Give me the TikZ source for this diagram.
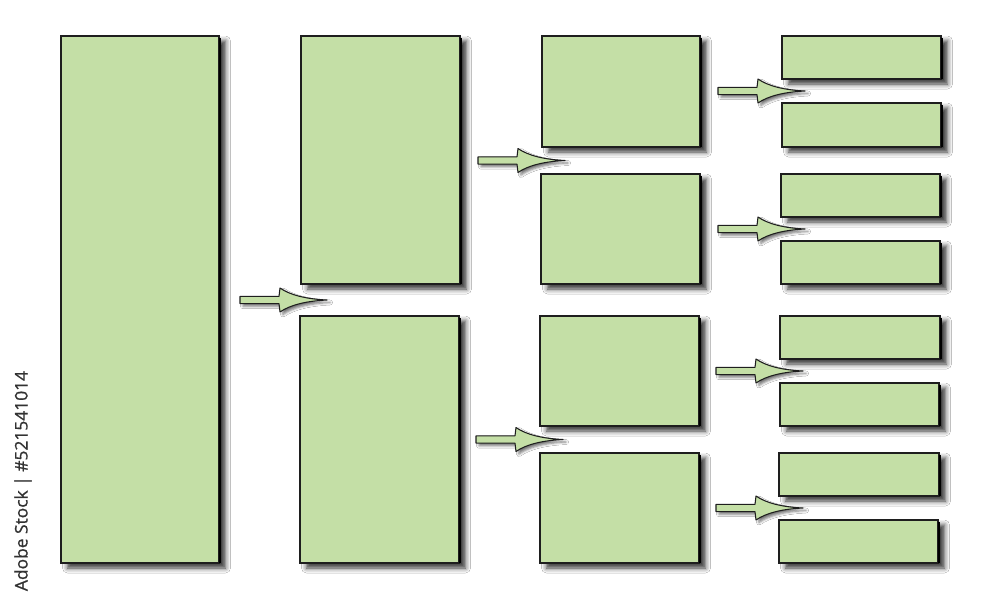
\documentclass[tikz,border=0pt]{standalone}
\usepackage{fontspec}
\newfontfamily\wmfont[FakeBold=0.8]{Open Sans}
\usetikzlibrary{calc,shadows.blur}
\definecolor{boxgreen}{RGB}{196,223,166}
\definecolor{edgedark}{RGB}{30,30,30}
\definecolor{wmgray}{RGB}{50,50,50}
\tikzset{
  box/.style={draw=edgedark, line width=0.7pt, fill=boxgreen, inner sep=0pt, outer sep=0pt,
    blur shadow={shadow xshift=0.13cm, shadow yshift=-0.1cm, shadow blur radius=0.1cm, shadow opacity=80}},
  rightedge/.style={draw=black, line width=1.3pt, line cap=butt},
  arrowshape/.style={draw=edgedark, line width=0.6pt, fill=boxgreen, line join=round,
    blur shadow={shadow xshift=0.06cm, shadow yshift=-0.05cm, shadow blur radius=0.05cm, shadow opacity=55}},
  fatarrow/.pic={
    \path[arrowshape] (0,-3.7) -- (39,-3.7)
      .. controls (40,-8) .. (40,-12)
      .. controls (50,-5) and (66,-1) .. (87,0)
      .. controls (66,1) and (50,5) .. (40,12)
      .. controls (40,8) .. (39,3.7) -- (0,3.7) -- cycle;
  }
}
\newcommand\bx[5]{\node[box, minimum width={#4*0.02cm}, minimum height={#5*0.02cm}] (#1) at (#2,#3) {};
  \draw[rightedge] ([xshift=0.5pt,yshift=-1pt]#1.north east) -- ([xshift=0.5pt]#1.south east);}
\begin{document}
\begin{tikzpicture}[x=0.02cm, y=-0.02cm]
\useasboundingbox[fill=white] (0,0) rectangle (1000,600);
% column 1
\bx{c1}{140}{299.5}{158}{527}
% column 2
\bx{c2a}{380.5}{160}{159}{248}
\bx{c2b}{379.5}{439.5}{159}{247}
% column 3
\bx{c3a}{621}{91.5}{158}{111}
\bx{c3b}{620.5}{229}{159}{110}
\bx{c3c}{619.5}{371}{159}{110}
\bx{c3d}{619.5}{508}{159}{110}
% column 4
\bx{c4a}{861.5}{57.5}{159}{43}
\bx{c4b}{861.5}{125}{159}{44}
\bx{c4c}{860.5}{195.5}{159}{43}
\bx{c4d}{860.5}{262.5}{159}{43}
\bx{c4e}{860}{337.5}{160}{43}
\bx{c4f}{859.5}{404.5}{159}{43}
\bx{c4g}{859}{474.5}{160}{43}
\bx{c4h}{858.5}{541.5}{159}{43}
% gap midpoints
\coordinate (m1) at ($(c2a.south)!0.5!(c2b.north)$);
\coordinate (m2) at ($(c3a.south)!0.5!(c3b.north)$);
\coordinate (m3) at ($(c3c.south)!0.5!(c3d.north)$);
\coordinate (m4) at ($(c4a.south)!0.5!(c4b.north)$);
\coordinate (m5) at ($(c4c.south)!0.5!(c4d.north)$);
\coordinate (m6) at ($(c4e.south)!0.5!(c4f.north)$);
\coordinate (m7) at ($(c4g.south)!0.5!(c4h.north)$);
% arrows
\coordinate (a1) at ([xshift=21*0.02cm]c1.east |- m1);
\pic at (a1) {fatarrow};
\coordinate (a2) at ([xshift=18*0.02cm]c2a.east |- m2);
\pic at (a2) {fatarrow};
\coordinate (a3) at ([xshift=17*0.02cm]c2b.east |- m3);
\pic at (a3) {fatarrow};
\coordinate (a4) at ([xshift=18*0.02cm]c3a.east |- m4);
\pic at (a4) {fatarrow};
\coordinate (a5) at ([xshift=18*0.02cm]c3b.east |- m5);
\pic at (a5) {fatarrow};
\coordinate (a6) at ([xshift=17*0.02cm]c3c.east |- m6);
\pic at (a6) {fatarrow};
\coordinate (a7) at ([xshift=17*0.02cm]c3d.east |- m7);
\pic at (a7) {fatarrow};
% side text
\node[rotate=90, text=wmgray, font=\wmfont\fontsize{9.9}{12}\selectfont, inner sep=0pt] (wm) at (23,481) {Adobe Stock | \#521541014};
\end{tikzpicture}
\end{document}
